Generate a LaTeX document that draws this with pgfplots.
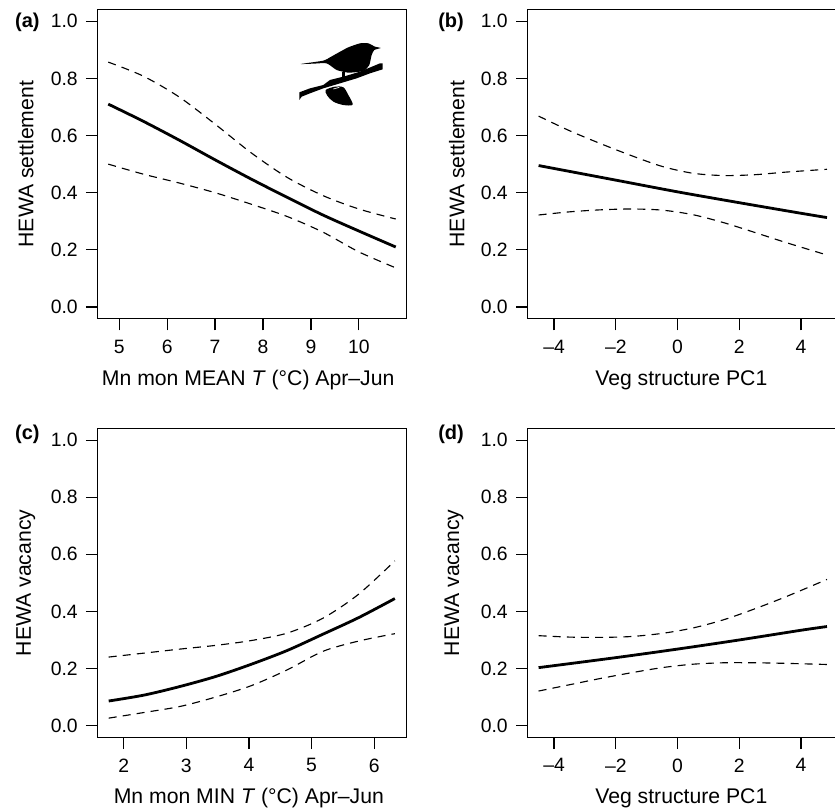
\documentclass[border=0pt]{standalone}
\usepackage{pgfplots}
\pgfplotsset{compat=1.18}
\usepackage{fontspec}
\setmainfont{Liberation Sans}
\pgfplotsset{
  panel/.style={
    scale only axis,
    clip=false,
    width=231.75pt,
    height=231.9pt,
    ymin=-0.041, ymax=1.041,
    ytick={0,0.2,0.4,0.6,0.8,1},
    yticklabels={0.0,0.2,0.4,0.6,0.8,1.0},
    axis line style={line width=0.95pt,black},
    tick style={line width=0.95pt,black},
    tick align=outside,
    tickwidth=8.8pt,
    tick label style={font=\fontsize{14.5}{16}\selectfont, inner sep=0pt},
    xticklabel style={anchor=north, yshift=-7pt},
    yticklabel style={anchor=east, xshift=-6pt},
  },
  box/.style={axis x line=box, axis y line=box, xtick pos=bottom, ytick pos=left},
  xlab/.style={every axis x label/.style={at={(axis description cs:#1,0)},anchor=base,yshift=-49.9pt,font=\fontsize{15.9}{18}\selectfont}},
  ylab/.style={every axis y label/.style={at={(axis description cs:0,0.5)},xshift=#1,rotate=90,anchor=base,font=\fontsize{15.9}{18}\selectfont}},
  fit/.style={black,line width=2.1pt,smooth,no markers},
  ci/.style={black,line width=0.85pt,smooth,no markers,dash pattern=on 6pt off 4.6pt},
}
\begin{document}
\begin{tikzpicture}[x=1pt,y=1pt]
\clip (0,0) rectangle (626.25,608.25);
% (a)
\begin{axis}[panel,box,at={(73.3pt,369.2pt)},anchor=south west,
  xmin=4.55,xmax=11.0,xtick={5,6,7,8,9,10},xticklabels={5,6,7,8,9,10},
  xlab=0.487,ylab=-48.3pt,
  xlabel={Mn mon MEAN \textit{T} (°C) Apr–Jun},ylabel={HEWA settlement}]
\addplot[ci] coordinates {(4.77,0.857)(5.5,0.808)(6.25,0.735)(7,0.64)(7.75,0.54)(8.5,0.454)(9.25,0.39)(10,0.343)(10.77,0.308)};
\addplot[ci] coordinates {(4.77,0.50)(5.5,0.465)(6.25,0.434)(7,0.40)(7.75,0.36)(8.5,0.317)(9.25,0.262)(10,0.193)(10.77,0.137)};
\addplot[fit] coordinates {(4.77,0.71)(5.5,0.65)(6.25,0.584)(7,0.515)(7.75,0.448)(8.5,0.384)(9.25,0.322)(10,0.266)(10.77,0.21)};
\end{axis}
% (b)
\begin{axis}[panel,box,at={(395.8pt,369.2pt)},anchor=south west,
  xmin=-4.852,xmax=5.156,xtick={-4,-2,0,2,4},xticklabels={–4,–2,0,2,4},
  xlab=0.497,ylab=-47.6pt,
  xlabel={Veg structure PC1},ylabel={HEWA settlement}]
\addplot[ci] coordinates {(-4.5,0.668)(-3.5,0.617)(-2.5,0.572)(-1.5,0.53)(-0.5,0.492)(0.5,0.468)(1.5,0.46)(2.5,0.463)(3.5,0.472)(4.84,0.482)};
\addplot[ci] coordinates {(-4.5,0.322)(-3.5,0.333)(-2.5,0.34)(-1.5,0.343)(-0.5,0.339)(0.5,0.323)(1.5,0.295)(2.5,0.261)(3.5,0.226)(4.84,0.182)};
\addplot[fit] coordinates {(-4.5,0.495)(-2,0.444)(0,0.403)(2,0.365)(4,0.328)(4.84,0.313)};
\end{axis}
% (c)
\begin{axis}[panel,box,at={(73.3pt,55.3pt)},anchor=south west,height=231.6pt,
  xmin=1.585,xmax=6.52,xtick={2,3,4,5,6},xticklabels={2,3,4,5,6},
  xlab=0.489,ylab=-50.2pt,
  xlabel={Mn mon MIN \textit{T} (°C) Apr–Jun},ylabel={HEWA vacancy}]
\addplot[ci] coordinates {(1.76,0.24)(2.33,0.254)(2.9,0.268)(3.47,0.281)(4.04,0.298)(4.61,0.324)(5.18,0.376)(5.75,0.46)(6.33,0.577)};
\addplot[ci] coordinates {(1.76,0.026)(2.33,0.046)(2.9,0.067)(3.47,0.10)(4.04,0.14)(4.61,0.195)(5.18,0.26)(5.75,0.296)(6.33,0.322)};
\addplot[fit] coordinates {(1.76,0.086)(2.33,0.107)(2.9,0.137)(3.47,0.172)(4.04,0.215)(4.61,0.263)(5.18,0.32)(5.75,0.378)(6.33,0.445)};
\end{axis}
% (d)
\begin{axis}[panel,box,at={(395.8pt,55.3pt)},anchor=south west,height=231.6pt,
  xmin=-4.852,xmax=5.156,xtick={-4,-2,0,2,4},xticklabels={–4,–2,0,2,4},
  xlab=0.497,ylab=-51.5pt,
  xlabel={Veg structure PC1},ylabel={HEWA vacancy}]
\addplot[ci] coordinates {(-4.5,0.315)(-3.5,0.31)(-2.5,0.309)(-1.5,0.312)(-0.5,0.323)(0.5,0.342)(1.5,0.371)(2.5,0.409)(3.5,0.451)(4.84,0.512)};
\addplot[ci] coordinates {(-4.5,0.121)(-3.5,0.143)(-2.5,0.165)(-1.5,0.185)(-0.5,0.203)(0.5,0.215)(1.5,0.22)(2.5,0.22)(3.5,0.218)(4.84,0.214)};
\addplot[fit] coordinates {(-4.5,0.203)(-2,0.238)(0,0.268)(2,0.30)(4,0.334)(4.84,0.347)};
\end{axis}
% panel letters
\begin{scope}[every node/.style={anchor=base west,inner sep=0pt,font=\bfseries\fontsize{15}{17}\selectfont}]
\node at (11.2,587.5) {(a)};
\node at (328.5,587.5) {(b)};
\node at (11.2,278.5) {(c)};
\node at (328.5,278.5) {(d)};
\end{scope}
% bird silhouette
\begin{scope}[shift={(210,585.75)},x=0.25pt,y=-0.25pt]
\fill[black] plot[smooth cycle,tension=0.35] coordinates {(62,102)(130,92)(150,82)(175,68)(205,52)(240,40)(265,40)(285,50)(302,54)(283,60)(275,75)(268,105)(255,120)(240,125)(205,128)(170,120)(140,100)(100,101)};
\fill[black] (186,125) rectangle (194,145);
\fill[black] (58,187)--(90,175)--(130,165)--(150,150)--(190,140)--(240,125)--(300,100)--(308,100)--(308,118)--(270,130)--(230,145)--(180,160)--(130,175)--(90,190)--(65,200)--(58,210)--cycle;
\fill[black] plot[smooth cycle,tension=0.5] coordinates {(137,180)(165,170)(190,172)(205,195)(218,224)(190,225)(160,215)(142,197)};
\draw[white,line width=0.5pt] (160,177)--(178,172);
\end{scope}
\end{tikzpicture}
\end{document}
